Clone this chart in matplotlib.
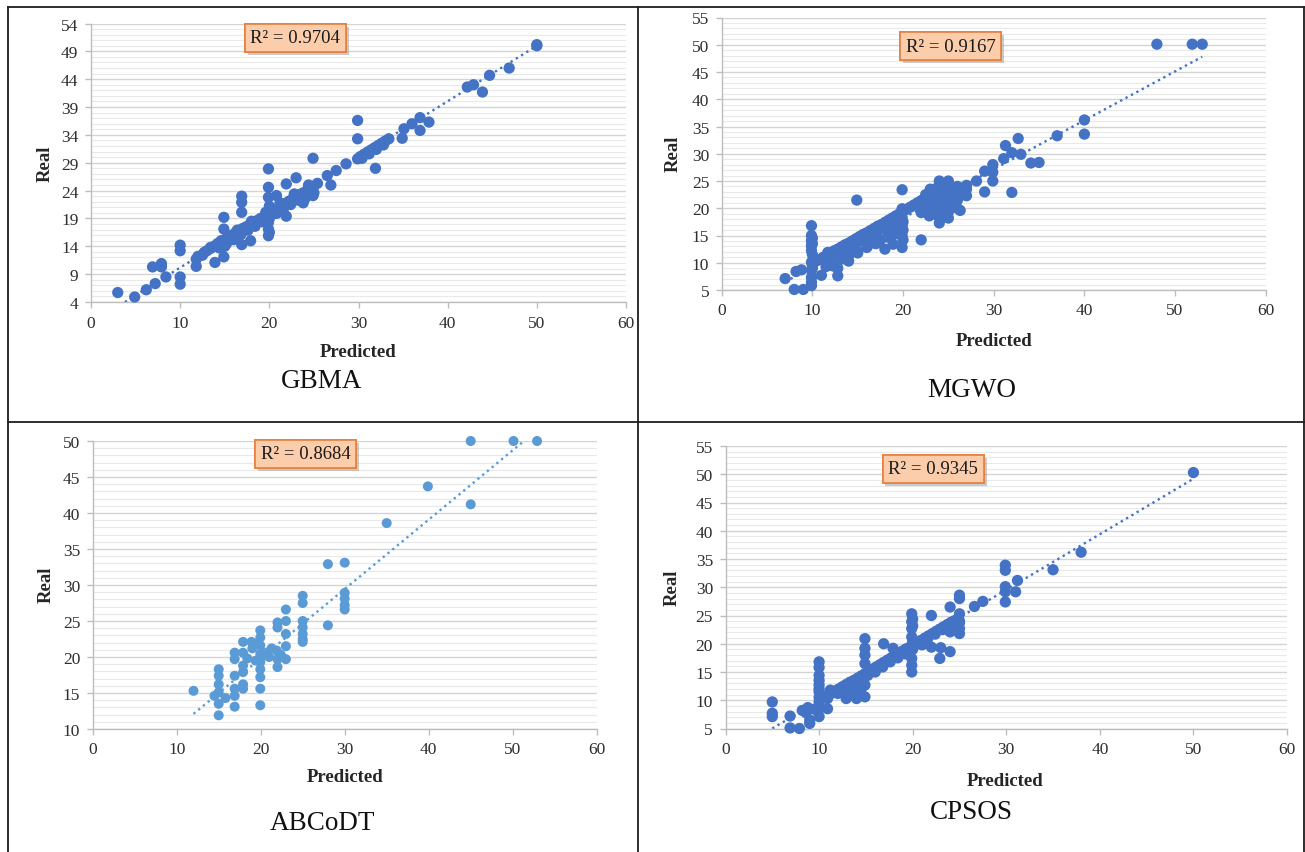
import matplotlib
matplotlib.use("Agg")
import matplotlib.pyplot as plt
import matplotlib.patheffects as pe
from matplotlib.lines import Line2D
import numpy as np

W, H = 1305, 853
SERIF = "Liberation Serif"
plt.rcParams["font.family"] = SERIF

# ---- GBMA ----
gbma_pred = [3.0, 4.9, 6.2, 7.2, 6.9, 7.9, 7.9, 8.4, 10.0, 10.0, 10.0, 10.0,
             11.8, 11.8, 12.7, 13.4, 13.9, 14.9, 14.9, 14.9, 14.6,
             16.9, 16.9, 16.9, 16.9, 17.9, 19.9, 19.9, 19.9, 19.9, 19.9, 19.9,
             20.8, 21.9, 21.9, 23.0, 23.8, 24.9, 24.9, 26.9, 26.5, 27.5, 28.6,
             29.9, 29.9, 29.9, 31.9, 34.9, 35.1, 36.0, 36.9, 36.9, 37.9,
             42.2, 42.9, 43.9, 44.7, 46.9, 50.0, 50.0,
             13.0, 13.4, 13.8, 14.2, 14.6, 15.0, 15.4, 15.8, 16.2, 16.6, 17.0,
             17.4, 17.8, 18.2, 18.6, 19.0, 19.4, 19.8, 20.2, 20.6, 21.0, 21.4,
             21.8, 22.2, 22.6, 23.0, 23.4, 23.8, 24.2, 24.6, 25.0, 25.4,
             30.2, 30.6, 31.0, 31.4, 31.8, 32.2, 32.6, 33.0, 33.4,
             20.0, 20.0, 24.0, 25.0, 15.0,
             14.4, 15.2, 16.0, 16.8, 17.6, 18.4, 19.2, 20.0, 20.8, 21.6, 22.4,
             23.2, 24.0, 24.8, 16.4, 18.0, 19.6, 21.2, 22.8, 24.4, 30.4, 31.2,
             32.0, 32.8, 20.0, 20.0, 12.0, 12.5]
gbma_real = [5.7, 4.9, 6.2, 7.3, 10.3, 10.3, 10.9, 8.5, 14.2, 13.2, 8.5, 7.2,
             11.7, 10.4, 12.9, 13.8, 11.1, 12.1, 19.2, 17.1, 15.0,
             23.0, 21.9, 20.1, 14.3, 15.0, 27.9, 24.6, 22.8, 18.3, 17.1, 15.9,
             23.1, 25.2, 19.4, 26.3, 21.8, 23.1, 29.8, 25.0, 26.7, 27.6, 28.8,
             36.6, 33.3, 29.7, 28.0, 33.4, 35.1, 36.0, 37.1, 34.8, 36.3,
             42.6, 43.0, 41.7, 44.7, 46.0, 50.0, 50.2,
             13.2, 13.6, 14.0, 14.5, 14.9, 15.2, 15.7, 16.0, 16.4, 16.8, 17.2,
             17.5, 17.9, 18.3, 18.6, 19.0, 19.3, 19.7, 20.1, 20.5, 20.9, 21.3,
             21.7, 22.1, 22.5, 22.9, 23.3, 23.6, 24.0, 24.4, 24.8, 25.3,
             30.1, 30.5, 30.9, 31.3, 31.7, 32.1, 32.5, 32.9, 33.3,
             16.5, 19.0, 22.6, 23.6, 14.0,
             13.7, 14.5, 15.2, 16.1, 16.9, 17.6, 18.4, 19.1, 19.9, 20.8, 21.5,
             22.3, 23.1, 23.9, 16.9, 18.5, 20.1, 21.8, 23.4, 25.0, 29.8, 30.6,
             31.4, 32.2, 20.6, 21.2, 12.2, 12.4]
gbma_trend_x = [3.8, 50.0]
gbma_trend_y = [4.0, 50.0]

# ---- MGWO ----
mgwo_pred = [7.0, 8.0, 9.0, 8.2, 8.8,
             9.9, 9.9, 9.9, 9.9, 9.9, 9.9, 9.9, 9.9, 9.9, 9.9,
             11.0, 11.7, 12.3, 12.8, 12.8, 13.3, 14.0, 14.0, 14.9, 14.9, 15.6,
             16.1, 17.1, 18.0, 18.0, 18.9, 19.9, 19.9, 19.9, 19.9, 19.9, 19.9,
             22.0, 22.0, 22.9, 24.0, 27.0, 27.0, 28.1, 29.0, 29.0,
             29.9, 29.9, 29.9, 31.1, 31.3, 32.0, 32.0, 32.7, 33.0, 34.1, 35.0,
             37.0, 40.0, 40.0, 48.0, 51.9, 53.0,
             10.4, 10.8, 11.2, 11.6, 12.0, 12.4, 12.8, 13.2, 13.6, 14.0, 14.4,
             14.8, 15.2, 15.6, 16.0, 16.4, 16.8, 17.2, 17.6, 18.0, 18.4, 18.8,
             19.2, 19.6, 20.0, 20.4, 20.8, 21.2, 21.6, 22.0, 22.4,
             22.5, 23.0, 23.3, 23.6, 24.0, 24.0, 24.0, 24.0, 24.0, 24.0, 24.5,
             24.5, 25.0, 25.0, 25.0, 25.0, 25.0, 25.0, 25.0, 25.5, 26.0, 26.0,
             26.0, 26.3, 23.0, 23.0, 22.5, 23.7, 22.3, 25.4,
             11.5, 12.0, 13.0, 13.5, 14.0, 15.0, 16.0, 16.5, 17.0, 17.5, 18.3,
             19.0, 19.0,
             10.0, 10.0, 10.0, 10.0, 10.0, 12.2, 13.0, 13.8, 14.6, 15.4, 16.2,
             17.0, 17.8, 18.6, 19.4, 20.0, 20.0, 20.0, 22.8, 23.4, 24.6, 25.6,
             26.5, 27.0, 23.8, 24.2, 24.8, 25.2, 26.0, 22.6]
mgwo_real = [7.1, 5.1, 5.1, 8.4, 8.7,
             16.8, 15.0, 14.0, 13.1, 12.2, 10.1, 8.6, 7.3, 6.4, 5.8,
             7.7, 11.9, 9.4, 7.6, 9.0, 10.7, 11.3, 12.8, 21.5, 12.2, 14.4,
             13.1, 15.3, 12.5, 16.2, 13.4, 12.8, 15.0, 16.8, 18.3, 19.9, 23.4,
             14.2, 19.2, 18.6, 17.3, 23.5, 22.3, 25.0, 26.8, 23.0,
             28.0, 26.6, 25.0, 29.1, 31.5, 30.2, 22.9, 32.8, 29.9, 28.3, 28.4,
             33.3, 36.2, 33.6, 50.1, 50.1, 50.1,
             10.3, 10.6, 11.0, 11.4, 11.8, 12.2, 12.5, 12.9, 13.3, 13.6, 14.0,
             14.4, 14.8, 15.2, 15.5, 15.9, 16.3, 16.7, 17.0, 17.4, 17.8, 18.2,
             18.6, 19.0, 19.4, 19.8, 20.2, 20.6, 21.0, 21.4, 21.8,
             22.5, 23.5, 22.0, 20.8, 25.0, 24.0, 23.0, 22.0, 21.0, 20.2, 19.5,
             23.5, 25.0, 24.2, 22.5, 21.5, 20.5, 18.2, 19.3, 22.0, 24.0, 21.5,
             20.0, 19.6, 19.8, 21.2, 20.5, 18.8, 19.8, 23.6,
             9.3, 10.5, 11.0, 11.5, 10.3, 11.8, 12.8, 14.0, 13.5, 14.2, 14.7,
             15.2, 16.5,
             14.5, 13.5, 11.5, 9.5, 9.0, 11.0, 11.8, 12.5, 13.2, 14.0, 14.8,
             15.6, 16.4, 17.2, 18.0, 17.5, 16.0, 14.2, 21.8, 22.4, 21.8, 21.0,
             22.8, 24.2, 23.8, 18.4, 24.6, 20.0, 22.6, 21.0]
mgwo_trend_x = [7.0, 53.0]
mgwo_trend_y = [6.5, 47.8]

# ---- ABCoDT ----
abcodt_pred = [12.0, 14.5, 15.0, 15.0, 15.0, 15.0, 15.0, 15.0, 15.8,
               16.9, 16.9, 16.9, 16.9, 16.9, 16.9,
               17.9, 17.9, 17.9, 17.9, 17.9, 17.9, 18.9, 19.0, 19.4,
               19.95, 19.95, 19.95, 19.95, 19.95, 19.95, 19.95, 19.95, 19.95,
               20.7, 21.3, 21.9, 22.0, 22.0, 22.0, 22.0,
               23.0, 23.0, 23.0, 23.0, 23.0,
               25.0, 25.0, 25.0, 25.0, 25.0, 25.0, 25.0,
               28.0, 28.0, 30.0, 30.0, 30.0, 30.0, 30.0,
               35.0, 39.9, 45.0, 45.0, 50.1, 52.9,
               18.4, 19.5, 20.3, 21.0, 22.4]
abcodt_real = [15.3, 14.6, 18.3, 17.4, 16.2, 15.1, 13.5, 11.9, 14.3,
               20.6, 19.7, 17.4, 15.6, 14.6, 13.1,
               22.1, 20.6, 18.8, 17.9, 16.2, 15.6, 22.1, 21.2, 19.5,
               23.7, 22.7, 21.6, 20.4, 19.3, 18.3, 17.2, 15.6, 13.3,
               20.6, 21.2, 20.9, 24.8, 24.1, 19.7, 18.6,
               26.6, 25.0, 23.2, 21.5, 19.7,
               28.5, 27.5, 25.0, 24.1, 23.2, 22.5, 22.1,
               32.9, 24.4, 33.1, 28.9, 28.1, 27.2, 26.6,
               38.6, 43.7, 50.0, 41.2, 50.0, 50.0,
               19.8, 21.8, 20.2, 20.0, 20.3]
abcodt_trend_x = [12.0, 53.0]
abcodt_trend_y = [12.1, 51.6]

# ---- CPSOS ----
cpsos_pred = [5.0, 5.0, 5.0, 6.9, 6.9, 7.9, 8.2, 8.8, 9.0, 9.0,
              10.0, 10.0, 10.0, 10.0, 10.0, 10.0, 10.0, 10.0, 10.9, 10.9,
              12.9, 13.6, 14.0, 14.9,
              14.9, 14.9, 14.9, 14.9, 14.9, 14.9, 15.9, 16.9, 17.9,
              19.9, 19.9, 19.9, 19.9, 19.9, 19.9, 19.9,
              22.0, 22.0, 22.9, 23.0, 24.0, 24.0, 24.0,
              25.0, 25.0, 25.0, 25.0, 26.6, 27.5,
              29.9, 29.9, 29.9, 29.9, 29.9, 31.0, 31.2, 35.0, 38.0, 50.0,
              10.5, 10.9, 11.3, 11.7, 12.1, 12.5, 12.9, 13.3, 13.7, 14.1, 14.5,
              14.9, 15.3, 15.7, 16.1, 16.5, 16.9, 17.3, 17.7, 18.1, 18.5, 18.9,
              19.3, 19.7, 20.1, 20.5, 20.9, 21.3, 21.7, 22.1, 22.5, 22.9, 23.3,
              23.7, 24.1, 24.5, 24.9,
              13.0, 13.5, 14.2, 14.6, 18.4, 21.0, 24.5, 25.0,
              10.0, 10.0, 10.0, 11.2, 12.0, 12.8, 13.6, 14.4, 15.2, 16.0, 16.8,
              17.6, 18.4, 19.2, 20.0, 20.0, 20.0, 20.0, 21.6, 22.4, 23.2, 24.0,
              24.8, 25.0, 25.0, 9.5, 8.6]
cpsos_real = [9.7, 7.7, 7.1, 7.2, 5.1, 5.0, 8.2, 8.7, 5.9, 6.5,
              16.8, 14.4, 13.5, 12.7, 11.5, 9.7, 8.5, 7.1, 8.5, 10.3,
              10.3, 10.9, 10.3, 10.6,
              20.9, 19.2, 18.0, 16.5, 14.4, 12.7, 15.3, 20.0, 19.2,
              25.3, 23.9, 22.7, 21.2, 17.4, 16.2, 15.0,
              25.0, 19.4, 17.4, 19.3, 26.5, 22.1, 18.6,
              28.6, 28.0, 25.3, 22.7, 26.6, 27.5,
              33.9, 33.0, 30.1, 29.2, 27.4, 29.2, 31.2, 33.1, 36.2, 50.3,
              10.4, 10.8, 11.2, 11.6, 12.0, 12.4, 12.8, 13.2, 13.5, 13.9, 14.3,
              14.7, 15.1, 15.5, 15.9, 16.3, 16.7, 17.1, 17.5, 17.9, 18.3, 18.7,
              19.1, 19.4, 19.8, 20.2, 20.6, 21.0, 21.4, 21.8, 22.2, 22.6, 23.0,
              23.4, 23.8, 24.1, 24.5,
              11.8, 11.5, 11.9, 12.3, 17.6, 19.8, 23.0, 24.0,
              15.8, 12.0, 10.5, 11.8, 11.2, 12.0, 12.6, 13.4, 14.4, 15.0, 15.9,
              16.8, 17.5, 18.2, 19.0, 20.4, 23.2, 24.4, 20.9, 21.7, 22.5, 23.1,
              23.6, 21.8, 23.7, 8.4, 7.8]
cpsos_trend_x = [5.0, 50.0]
cpsos_trend_y = [5.0, 49.2]

names = ["GBMA", "MGWO", "ABCoDT", "CPSOS"]
r2_labels = ["R\u00b2 = 0.9704", "R\u00b2 = 0.9167", "R\u00b2 = 0.8684", "R\u00b2 = 0.9345"]

# panel layout in pixels: axes box (left, top, right, bottom), y range,
# label anchors and the R^2 box position in axes fractions
panels = [
    dict(px=gbma_pred, ry=gbma_real, tx=gbma_trend_x, ty=gbma_trend_y,
         box=(91, 24.5, 626, 303), ylim=(4, 54), color="#4472c4", s=66,
         real=(45, 164), predicted=(358, 353), name=(322, 382), r2=(0.382, 0.948)),
    dict(px=mgwo_pred, ry=mgwo_real, tx=mgwo_trend_x, ty=mgwo_trend_y,
         box=(721.7, 18.5, 1265.7, 291), ylim=(5, 55), color="#4472c4", s=66,
         real=(673, 154), predicted=(994, 341), name=(972, 391), r2=(0.421, 0.895)),
    dict(px=abcodt_pred, ry=abcodt_real, tx=abcodt_trend_x, ty=abcodt_trend_y,
         box=(92.7, 442, 596.7, 730), ylim=(10, 50), color="#5b9bd5", s=52,
         real=(46, 585), predicted=(345, 778), name=(322, 824), r2=(0.423, 0.955)),
    dict(px=cpsos_pred, ry=cpsos_real, tx=cpsos_trend_x, ty=cpsos_trend_y,
         box=(725.5, 447, 1287, 729.5), ylim=(5, 55), color="#4472c4", s=66,
         real=(672, 588), predicted=(1005, 782), name=(971, 813), r2=(0.370, 0.919)),
]


def fig_rect(l, t, r, b):
    return [l / W, 1 - b / H, (r - l) / W, (b - t) / H]


def fpt(x, y):
    return x / W, 1 - y / H


fig = plt.figure(figsize=(W / 100, H / 100), dpi=100)
fig.patch.set_facecolor("white")

for p, name, r2 in zip(panels, names, r2_labels):
    ax = fig.add_axes(fig_rect(*p["box"]))
    lo, hi = p["ylim"]
    ax.set_xlim(0, 60)
    ax.set_ylim(lo, hi)
    ax.set_xticks(np.arange(0, 61, 10))
    ax.set_yticks(np.arange(lo, hi + 1, 5))
    ax.set_yticks(np.arange(lo, hi + 1, 1), minor=True)

    ax.grid(axis="y", which="major", color="#d4d4d4", lw=1.0)
    ax.grid(axis="y", which="minor", color="#e9e9e9", lw=0.8)
    ax.set_axisbelow(True)
    for side in ("top", "right"):
        ax.spines[side].set_visible(False)
    for side in ("left", "bottom"):
        ax.spines[side].set_color("#bdbdbd")
        ax.spines[side].set_linewidth(1.0)
    ax.tick_params(which="major", direction="out", length=4, width=1,
                   color="#bdbdbd", labelcolor="#2e2e2e", labelsize=12.5, pad=5)
    ax.tick_params(which="minor", length=0)

    ax.plot(p["tx"], p["ty"], linestyle=(0, (1, 1.6)), color=p["color"],
            lw=1.7, zorder=2)
    ax.scatter(p["px"], p["ry"], s=p["s"], color=p["color"], edgecolors="none",
               zorder=3, clip_on=False)

    t = ax.text(p["r2"][0], p["r2"][1], r2, transform=ax.transAxes,
                ha="center", va="center", fontsize=13.5, color="#1a1a1a", zorder=5,
                bbox=dict(boxstyle="square,pad=0.3", fc="#fbcdab", ec="#e5803f", lw=1.2))
    t.get_bbox_patch().set_path_effects(
        [pe.withSimplePatchShadow(offset=(2, -2), shadow_rgbFace="#8c8c8c", alpha=0.45),
         pe.Normal()])

    fig.text(*fpt(*p["real"]), "Real", rotation=90, ha="center", va="center",
             fontsize=13.5, fontweight="bold", color="#262626")
    fig.text(*fpt(*p["predicted"]), "Predicted", ha="center", va="center",
             fontsize=13.5, fontweight="bold", color="#262626")
    fig.text(*fpt(*p["name"]), name, ha="center", va="center",
             fontsize=19.5, color="#111111")

# table frame around the four panels
frame = dict(color="#1e1e1e", lw=1.3)
for (x0, y0, x1, y1) in [(7.5, 8, 1303.5, 8), (7.5, 8, 7.5, 853),
                         (1303.5, 8, 1303.5, 853), (637.5, 8, 637.5, 853),
                         (7.5, 423, 1303.5, 423)]:
    a, b = fpt(x0, y0)
    c, d = fpt(x1, y1)
    fig.add_artist(Line2D([a, c], [b, d], transform=fig.transFigure, **frame))

fig.savefig("out.png", dpi=100)
